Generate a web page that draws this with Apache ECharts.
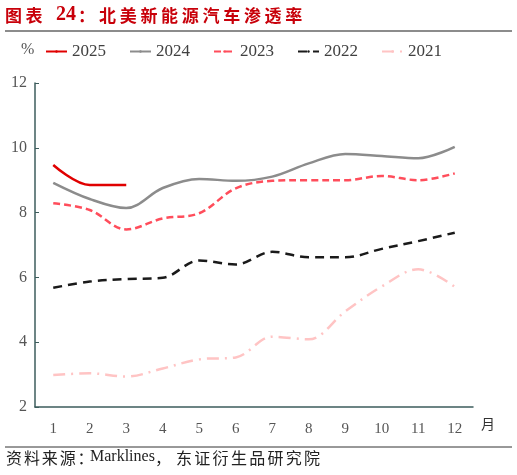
<!DOCTYPE html>
<html>
<head>
<meta charset="utf-8">
<script src="https://cdn.jsdelivr.net/npm/echarts@6/dist/echarts.min.js"></script>
<style>
html, body { margin: 0; padding: 0; background: #fff; }
#main { width: 517px; height: 475px; }
</style>
</head>
<body>
<div id="main"></div>
<script>
var months = ['1', '2', '3', '4', '5', '6', '7', '8', '9', '10', '11', '12'];
var y2025 = [9.47, 8.85, 8.85];
var y2024 = [8.92, 8.42, 8.14, 8.76, 9.04, 8.98, 9.11, 9.52, 9.81, 9.75, 9.68, 10.03];
var y2023 = [8.29, 8.08, 7.48, 7.82, 7.98, 8.75, 8.98, 9.0, 9.0, 9.13, 9.0, 9.21];
var y2022 = [5.68, 5.87, 5.95, 5.99, 6.52, 6.40, 6.79, 6.62, 6.62, 6.88, 7.12, 7.38];
var y2021 = [2.99, 3.04, 2.94, 3.19, 3.47, 3.53, 4.17, 4.09, 4.95, 5.72, 6.25, 5.71];

var myChart = echarts.init(document.getElementById('main'));
var serif = 'Liberation Serif';
var cjk = 'Noto Sans CJK SC';

function line(name, data, color, type, width) {
    return {
        name: name,
        type: 'line',
        data: data,
        smooth: 0.35,
        symbol: 'none',
        lineStyle: { color: color, type: type, width: width },
        itemStyle: { color: color }
    };
}

// 宋体排版字距较宽，逐字排开
var graphics = [];
function spaced(text, x0, pitch, top, style) {
    for (var i = 0; i < text.length; i++) {
        graphics.push({ type: 'text', x: x0 + i * pitch, y: top, style: Object.assign({ text: text[i] }, style) });
    }
}
function put(text, x, top, style) {
    graphics.push({ type: 'text', x: x, y: top, style: Object.assign({ text: text }, style) });
}
var titleStyle = { fontFamily: cjk, fontSize: 17, fontWeight: 'bold', fill: '#c8000a' };
spaced('图表', 5, 20.5, 7, titleStyle);
put('24', 56, 5, { fontFamily: serif, fontSize: 20, fontWeight: 'bold', fill: '#c8000a' });
put('：', 78, 7, titleStyle);
spaced('北美新能源汽车渗透率', 99, 20.7, 7, titleStyle);

var footStyle = { fontFamily: cjk, fontSize: 16, fill: '#222' };
spaced('资料来源：', 6, 17.9, 450, footStyle);
put('Marklines', 90, 449, { fontFamily: serif, fontSize: 16, fill: '#222' });
put('，', 155, 450, footStyle);
spaced('东证衍生品研究院', 176, 18.3, 450, footStyle);

graphics.push(
    { type: 'line', shape: { x1: 5, y1: 31, x2: 512, y2: 31 }, style: { stroke: '#666', lineWidth: 1.5 } },
    { type: 'line', shape: { x1: 5, y1: 447, x2: 512, y2: 447 }, style: { stroke: '#333', lineWidth: 1 } }
);
put('%', 21, 42, { fontFamily: serif, fontSize: 16, fill: '#555' });
put('月', 481, 417, { fontFamily: cjk, fontSize: 14, fill: '#333' });

var option = {
    animation: false,
    grid: { left: 35, right: 44, top: 83, bottom: 68 },
    legend: {
        top: 38,
        left: 40,
        itemWidth: 21,
        itemHeight: 3,
        itemGap: 23,
        textStyle: { fontFamily: serif, fontSize: 17, color: '#404040' },
        data: ['2025', '2024', '2023', '2022', '2021']
    },
    xAxis: {
        type: 'category',
        data: months,
        boundaryGap: true,
        axisLine: { lineStyle: { color: '#3d5c5c', width: 1.5 } },
        axisTick: { inside: true, length: 4, lineStyle: { color: '#3d5c5c' } },
        axisLabel: { fontFamily: serif, fontSize: 15, color: '#555', margin: 15 }
    },
    yAxis: {
        type: 'value',
        min: 2,
        max: 12,
        interval: 2,
        splitLine: { show: false },
        axisLine: { show: true, lineStyle: { color: '#3d5c5c', width: 1.5 } },
        axisTick: { show: true, inside: true, length: 4, lineStyle: { color: '#3d5c5c' } },
        axisLabel: { fontFamily: serif, fontSize: 16, color: '#555', margin: 8 }
    },
    series: [
        line('2025', y2025, '#e00000', 'solid', 2.5),
        line('2024', y2024, '#8c8c8c', 'solid', 2.5),
        line('2023', y2023, '#ff4d5b', [7, 4], 2.5),
        line('2022', y2022, '#1a1a1a', [9, 6], 2.5),
        line('2021', y2021, '#ffc4c4', [12, 6, 2, 6], 2.5)
    ],
    graphic: graphics
};
myChart.setOption(option);
</script>
</body>
</html>
